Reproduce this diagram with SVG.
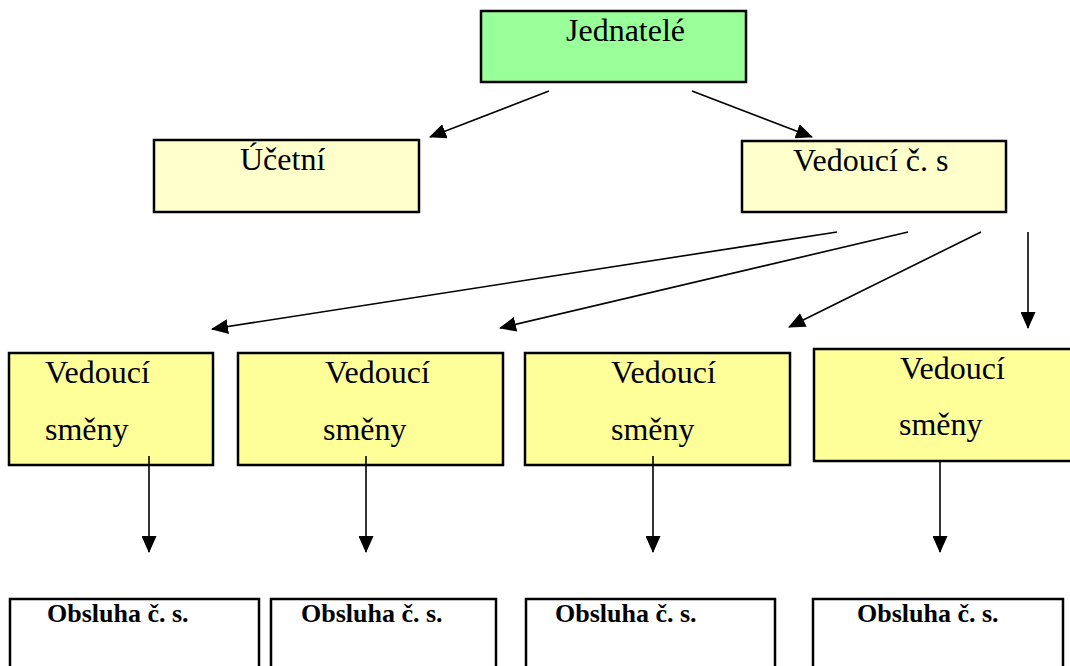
<svg xmlns="http://www.w3.org/2000/svg" width="1070" height="666" viewBox="0 0 1070 666">
<defs>
<style>
.box{stroke:#000;stroke-width:2.5}
.g{fill:#99ff99}
.ly{fill:#ffffcc}
.y{fill:#ffff99}
.w{fill:#fff}
.t{font-family:"Liberation Serif","Times New Roman",serif;font-size:32px;fill:#000}
.b{font-family:"Liberation Serif","Times New Roman",serif;font-size:26px;font-weight:bold;fill:#000}
.c{stroke:#000;stroke-width:1.6;fill:none;marker-end:url(#ah)}
</style>
<marker id="ah" markerUnits="userSpaceOnUse" markerWidth="17" markerHeight="15" viewBox="0 0 17 15" refX="16" refY="7.5" orient="auto">
<path d="M0,0 L17,7.5 L0,15 Z" fill="#000"/>
</marker>
</defs>
<rect width="1070" height="666" fill="#fff"/>
<g id="jednatele">
<rect class="box g" x="481" y="11" width="265" height="71"/>
<text class="t" x="566" y="41">Jednatelé</text>
</g>
<g id="ucetni">
<rect class="box ly" x="154" y="140" width="265" height="72"/>
<text class="t" x="240" y="170">Účetní</text>
</g>
<g id="vedouci-cs">
<rect class="box ly" x="742" y="141" width="264" height="71"/>
<text class="t" x="793" y="171">Vedoucí č. s</text>
</g>
<g id="vs1">
<rect class="box y" x="9" y="353" width="204" height="112"/>
<text class="t" x="45" y="383">Vedoucí</text>
<text class="t" x="45" y="440">směny</text>
</g>
<g id="vs2">
<rect class="box y" x="238" y="353" width="265" height="112"/>
<text class="t" x="325" y="383">Vedoucí</text>
<text class="t" x="323" y="440">směny</text>
</g>
<g id="vs3">
<rect class="box y" x="525" y="353" width="265" height="112"/>
<text class="t" x="611" y="383">Vedoucí</text>
<text class="t" x="611" y="440">směny</text>
</g>
<g id="vs4">
<rect class="box y" x="814" y="349" width="262" height="112"/>
<text class="t" x="900" y="379">Vedoucí</text>
<text class="t" x="899" y="435">směny</text>
</g>
<g id="obs1">
<rect class="box w" x="10" y="599" width="249" height="80"/>
<text class="b" x="47" y="622">Obsluha č. s.</text>
</g>
<g id="obs2">
<rect class="box w" x="271" y="599" width="225" height="80"/>
<text class="b" x="301" y="622">Obsluha č. s.</text>
</g>
<g id="obs3">
<rect class="box w" x="526" y="599" width="249" height="80"/>
<text class="b" x="555" y="622">Obsluha č. s.</text>
</g>
<g id="obs4">
<rect class="box w" x="813" y="599" width="250" height="80"/>
<text class="b" x="857" y="622">Obsluha č. s.</text>
</g>
<g id="connectors">
<line class="c" x1="549" y1="91" x2="430" y2="137"/>
<line class="c" x1="692" y1="91" x2="812" y2="137"/>
<line class="c" x1="837" y1="232" x2="212" y2="329"/>
<line class="c" x1="908" y1="232" x2="500" y2="328"/>
<line class="c" x1="981" y1="232" x2="789" y2="327"/>
<line class="c" x1="1028" y1="232" x2="1028" y2="328"/>
<line class="c" x1="149" y1="456" x2="149" y2="552"/>
<line class="c" x1="366" y1="456" x2="366" y2="552"/>
<line class="c" x1="653" y1="456" x2="653" y2="552"/>
<line class="c" x1="940" y1="462" x2="940" y2="552"/>
</g>
</svg>
